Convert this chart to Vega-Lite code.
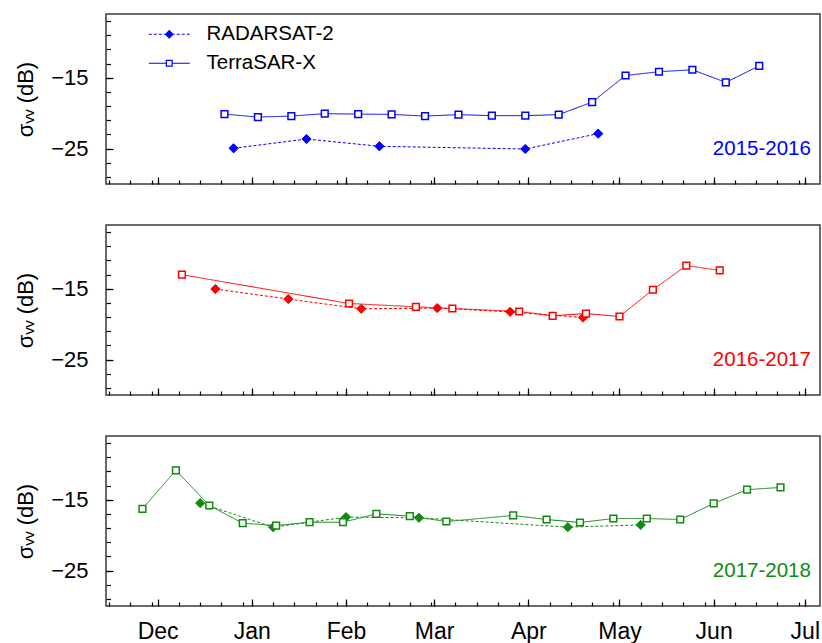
{
  "$schema": "https://vega.github.io/schema/vega-lite/v6.json",
  "padding": {"left": 13, "top": 13, "right": 0, "bottom": 0},
  "background": "white",
  "config": {
    "font": "Liberation Sans",
    "view": {"stroke": "#3a3a3a", "strokeWidth": 1.5},
    "axis": {"domain": false, "grid": false, "tickColor": "#000000", "tickWidth": 1.2, "labelFont": "Liberation Sans", "labelFontSize": 22, "labelColor": "#000000", "titleFont": "Liberation Sans", "titleFontSize": 22, "titleFontWeight": "normal", "titleColor": "#000000"}
  },
  "datasets": {
    "obs": [
      {"season": "2015-2016", "sensor": "TerraSAR-X", "date": "2015-12-23", "sigma": -20.13},
      {"season": "2015-2016", "sensor": "TerraSAR-X", "date": "2016-01-03", "sigma": -20.55},
      {"season": "2015-2016", "sensor": "TerraSAR-X", "date": "2016-01-14", "sigma": -20.41},
      {"season": "2015-2016", "sensor": "TerraSAR-X", "date": "2016-01-25", "sigma": -20.07},
      {"season": "2015-2016", "sensor": "TerraSAR-X", "date": "2016-02-05", "sigma": -20.13},
      {"season": "2015-2016", "sensor": "TerraSAR-X", "date": "2016-02-16", "sigma": -20.17},
      {"season": "2015-2016", "sensor": "TerraSAR-X", "date": "2016-02-27", "sigma": -20.41},
      {"season": "2015-2016", "sensor": "TerraSAR-X", "date": "2016-03-09", "sigma": -20.21},
      {"season": "2015-2016", "sensor": "TerraSAR-X", "date": "2016-03-20", "sigma": -20.35},
      {"season": "2015-2016", "sensor": "TerraSAR-X", "date": "2016-03-31", "sigma": -20.35},
      {"season": "2015-2016", "sensor": "TerraSAR-X", "date": "2016-04-11", "sigma": -20.21},
      {"season": "2015-2016", "sensor": "TerraSAR-X", "date": "2016-04-22", "sigma": -18.44},
      {"season": "2015-2016", "sensor": "TerraSAR-X", "date": "2016-05-03", "sigma": -14.68},
      {"season": "2015-2016", "sensor": "TerraSAR-X", "date": "2016-05-14", "sigma": -14.15},
      {"season": "2015-2016", "sensor": "TerraSAR-X", "date": "2016-05-25", "sigma": -13.87},
      {"season": "2015-2016", "sensor": "TerraSAR-X", "date": "2016-06-05", "sigma": -15.66},
      {"season": "2015-2016", "sensor": "TerraSAR-X", "date": "2016-06-16", "sigma": -13.31},
      {"season": "2015-2016", "sensor": "RADARSAT-2", "date": "2015-12-26", "sigma": -24.96},
      {"season": "2015-2016", "sensor": "RADARSAT-2", "date": "2016-01-19", "sigma": -23.65},
      {"season": "2015-2016", "sensor": "RADARSAT-2", "date": "2016-02-12", "sigma": -24.68},
      {"season": "2015-2016", "sensor": "RADARSAT-2", "date": "2016-03-31", "sigma": -25.06},
      {"season": "2015-2016", "sensor": "RADARSAT-2", "date": "2016-04-24", "sigma": -22.89},
      {"season": "2016-2017", "sensor": "TerraSAR-X", "date": "2015-12-09", "sigma": -13.02},
      {"season": "2016-2017", "sensor": "TerraSAR-X", "date": "2016-02-02", "sigma": -17.08},
      {"season": "2016-2017", "sensor": "TerraSAR-X", "date": "2016-02-24", "sigma": -17.55},
      {"season": "2016-2017", "sensor": "TerraSAR-X", "date": "2016-03-07", "sigma": -17.79},
      {"season": "2016-2017", "sensor": "TerraSAR-X", "date": "2016-03-29", "sigma": -18.21},
      {"season": "2016-2017", "sensor": "TerraSAR-X", "date": "2016-04-09", "sigma": -18.82},
      {"season": "2016-2017", "sensor": "TerraSAR-X", "date": "2016-04-20", "sigma": -18.5},
      {"season": "2016-2017", "sensor": "TerraSAR-X", "date": "2016-05-01", "sigma": -18.92},
      {"season": "2016-2017", "sensor": "TerraSAR-X", "date": "2016-05-12", "sigma": -15.14},
      {"season": "2016-2017", "sensor": "TerraSAR-X", "date": "2016-05-23", "sigma": -11.74},
      {"season": "2016-2017", "sensor": "TerraSAR-X", "date": "2016-06-03", "sigma": -12.41},
      {"season": "2016-2017", "sensor": "RADARSAT-2", "date": "2015-12-20", "sigma": -15.04},
      {"season": "2016-2017", "sensor": "RADARSAT-2", "date": "2016-01-13", "sigma": -16.46},
      {"season": "2016-2017", "sensor": "RADARSAT-2", "date": "2016-02-06", "sigma": -17.83},
      {"season": "2016-2017", "sensor": "RADARSAT-2", "date": "2016-03-02", "sigma": -17.73},
      {"season": "2016-2017", "sensor": "RADARSAT-2", "date": "2016-03-26", "sigma": -18.26},
      {"season": "2016-2017", "sensor": "RADARSAT-2", "date": "2016-04-19", "sigma": -19.07},
      {"season": "2017-2018", "sensor": "TerraSAR-X", "date": "2015-11-26", "sigma": -16.28},
      {"season": "2017-2018", "sensor": "TerraSAR-X", "date": "2015-12-07", "sigma": -10.84},
      {"season": "2017-2018", "sensor": "TerraSAR-X", "date": "2015-12-18", "sigma": -15.81},
      {"season": "2017-2018", "sensor": "TerraSAR-X", "date": "2015-12-29", "sigma": -18.31},
      {"season": "2017-2018", "sensor": "TerraSAR-X", "date": "2016-01-09", "sigma": -18.65},
      {"season": "2017-2018", "sensor": "TerraSAR-X", "date": "2016-01-20", "sigma": -18.17},
      {"season": "2017-2018", "sensor": "TerraSAR-X", "date": "2016-01-31", "sigma": -18.17},
      {"season": "2017-2018", "sensor": "TerraSAR-X", "date": "2016-02-11", "sigma": -16.99},
      {"season": "2017-2018", "sensor": "TerraSAR-X", "date": "2016-02-22", "sigma": -17.31},
      {"season": "2017-2018", "sensor": "TerraSAR-X", "date": "2016-03-05", "sigma": -18.07},
      {"season": "2017-2018", "sensor": "TerraSAR-X", "date": "2016-03-27", "sigma": -17.22},
      {"season": "2017-2018", "sensor": "TerraSAR-X", "date": "2016-04-07", "sigma": -17.79},
      {"season": "2017-2018", "sensor": "TerraSAR-X", "date": "2016-04-18", "sigma": -18.21},
      {"season": "2017-2018", "sensor": "TerraSAR-X", "date": "2016-04-29", "sigma": -17.65},
      {"season": "2017-2018", "sensor": "TerraSAR-X", "date": "2016-05-10", "sigma": -17.65},
      {"season": "2017-2018", "sensor": "TerraSAR-X", "date": "2016-05-21", "sigma": -17.79},
      {"season": "2017-2018", "sensor": "TerraSAR-X", "date": "2016-06-01", "sigma": -15.52},
      {"season": "2017-2018", "sensor": "TerraSAR-X", "date": "2016-06-12", "sigma": -13.58},
      {"season": "2017-2018", "sensor": "TerraSAR-X", "date": "2016-06-23", "sigma": -13.26},
      {"season": "2017-2018", "sensor": "RADARSAT-2", "date": "2015-12-15", "sigma": -15.47},
      {"season": "2017-2018", "sensor": "RADARSAT-2", "date": "2016-01-08", "sigma": -18.87},
      {"season": "2017-2018", "sensor": "RADARSAT-2", "date": "2016-02-01", "sigma": -17.45},
      {"season": "2017-2018", "sensor": "RADARSAT-2", "date": "2016-02-25", "sigma": -17.55},
      {"season": "2017-2018", "sensor": "RADARSAT-2", "date": "2016-04-14", "sigma": -18.87},
      {"season": "2017-2018", "sensor": "RADARSAT-2", "date": "2016-05-08", "sigma": -18.55}
    ],
    "seasons": [
      {"season": "2015-2016"},
      {"season": "2016-2017"},
      {"season": "2017-2018"}
    ]
  },
  "spacing": 38,
  "resolve": {"scale": {"fill": "independent"}, "legend": {"shape": "independent", "fill": "independent"}},
  "vconcat": [
    {
      "width": 714, "height": 170,
      "resolve": {"axis": {"x": "independent", "y": "independent"}},
      "layer": [
        {
          "data": {"name": "obs"},
          "transform": [{"filter": "datum.season === '2015-2016'"}],
          "mark": {"type": "line", "color": "#0000ff", "strokeWidth": 1},
          "encoding": {
            "x": {"field": "date", "type": "temporal", "scale": {"type": "utc", "domain": [{"year": 2015, "month": 11, "date": 14, "utc": true}, {"year": 2016, "month": 7, "date": 6, "utc": true}]},
              "axis": {"title": null, "orient": "bottom", "tickCount": {"interval": "month", "step": 1}, "tickSize": -7, "labels": false}},
            "y": {"field": "sigma", "type": "quantitative", "scale": {"domain": [-30, -6], "nice": false, "zero": false},
              "axis": {"title": "σᵥᵥ (dB)", "orient": "left", "values": [-25, -15], "tickSize": -7, "labelPadding": 25, "titlePadding": 13}},
            "strokeDash": {"field": "sensor", "type": "nominal", "scale": {"domain": ["RADARSAT-2", "TerraSAR-X"], "range": [[3, 2], [1, 0]]}, "legend": null}
          }
        },
        {
          "data": {"name": "obs"},
          "transform": [{"filter": "datum.season === '2015-2016' && datum.sensor === 'RADARSAT-2'"}],
          "mark": {"type": "point", "shape": "diamond", "filled": true, "color": "#0000ff", "stroke": "#0000ff", "strokeWidth": 1, "size": 85, "opacity": 1},
          "encoding": {
            "x": {"field": "date", "type": "temporal", "axis": {"title": null, "orient": "bottom", "tickCount": {"interval": "day", "step": 7}, "tickSize": -4, "labels": false}},
            "y": {"field": "sigma", "type": "quantitative", "axis": {"title": null, "orient": "left", "values": [-29, -27, -25, -23, -21, -19, -17, -15, -13, -11, -9, -7], "tickSize": -4.5, "labels": false}}
          }
        },
        {
          "data": {"name": "obs"},
          "transform": [{"filter": "datum.season === '2015-2016' && datum.sensor === 'TerraSAR-X'"}],
          "mark": {"type": "point", "shape": "square", "filled": true, "fill": "#ffffff", "stroke": "#0000ff", "strokeWidth": 1.5, "size": 45, "opacity": 1},
          "encoding": {
            "x": {"field": "date", "type": "temporal", "axis": null},
            "y": {"field": "sigma", "type": "quantitative", "axis": null}
          }
        },
        {
          "data": {"name": "obs"},
          "transform": [{"filter": "datum.season === 'legend'"}],
          "mark": {"type": "point", "filled": true, "color": "#0000ff", "opacity": 1},
          "encoding": {
            "x": {"field": "date", "type": "temporal", "axis": null},
            "y": {"field": "sigma", "type": "quantitative", "axis": null},
            "shape": {"field": "sensor", "type": "nominal",
              "scale": {"domain": ["RADARSAT-2", "TerraSAR-X"], "range": [
                "M-4.1,-0.12H-3.5V0.12H-4.1ZM-3.1,-0.12H-2.5V0.12H-3.1ZM-2.1,-0.12H-1.5V0.12H-2.1ZM-1.1,-0.12H-0.7V0.12H-1.1ZM0,-0.9L0.9,0L0,0.9L-0.9,0ZM0.7,-0.12H1.1V0.12H0.7ZM1.5,-0.12H2.1V0.12H1.5ZM2.5,-0.12H3.1V0.12H2.5ZM3.5,-0.12H4.1V0.12H3.5Z",
                "M-4.1,-0.12H-0.7V0.12H-4.1ZM0.7,-0.12H4.1V0.12H0.7ZM-0.7,-0.7H0.7V0.7H-0.7ZM-0.46,-0.46V0.46H0.46V-0.46Z"]},
              "legend": {"orient": "none", "legendX": 53, "legendY": 10, "title": null, "padding": 0, "rowPadding": 8, "labelOffset": 27, "labelFontSize": 20.5, "labelFont": "Liberation Sans", "labelColor": "#000000", "symbolSize": 100, "symbolOpacity": 1}},
            "fill": {"field": "sensor", "type": "nominal", "scale": {"domain": ["RADARSAT-2", "TerraSAR-X"], "range": ["#0000ff", "#0000ff"]}, "legend": null},
            "size": {"field": "sensor", "type": "nominal", "scale": {"domain": ["RADARSAT-2", "TerraSAR-X"], "range": [100, 100]}, "legend": null}
          }
        },
        {
          "data": {"name": "seasons"},
          "transform": [{"filter": "datum.season === '2015-2016'"}],
          "mark": {"type": "text", "align": "right", "baseline": "middle", "fontSize": 20.5, "font": "Liberation Sans", "color": "#0000ff"},
          "encoding": {
            "x": {"datum": {"year": 2016, "month": 7, "date": 3, "utc": true}, "type": "temporal", "axis": null},
            "y": {"datum": -25.05, "type": "quantitative", "axis": null},
            "text": {"field": "season", "type": "nominal"}
          }
        }
      ]
    },
    {
      "width": 714, "height": 170,
      "resolve": {"axis": {"x": "independent", "y": "independent"}},
      "layer": [
        {
          "data": {"name": "obs"},
          "transform": [{"filter": "datum.season === '2016-2017'"}],
          "mark": {"type": "line", "color": "#ff0000", "strokeWidth": 1},
          "encoding": {
            "x": {"field": "date", "type": "temporal", "scale": {"type": "utc", "domain": [{"year": 2015, "month": 11, "date": 14, "utc": true}, {"year": 2016, "month": 7, "date": 6, "utc": true}]},
              "axis": {"title": null, "orient": "bottom", "tickCount": {"interval": "month", "step": 1}, "tickSize": -7, "labels": false}},
            "y": {"field": "sigma", "type": "quantitative", "scale": {"domain": [-30, -6], "nice": false, "zero": false},
              "axis": {"title": "σᵥᵥ (dB)", "orient": "left", "values": [-25, -15], "tickSize": -7, "labelPadding": 25, "titlePadding": 13}},
            "strokeDash": {"field": "sensor", "type": "nominal", "scale": {"domain": ["RADARSAT-2", "TerraSAR-X"], "range": [[3, 2], [1, 0]]}, "legend": null}
          }
        },
        {
          "data": {"name": "obs"},
          "transform": [{"filter": "datum.season === '2016-2017' && datum.sensor === 'RADARSAT-2'"}],
          "mark": {"type": "point", "shape": "diamond", "filled": true, "color": "#ff0000", "stroke": "#ff0000", "strokeWidth": 1, "size": 85, "opacity": 1},
          "encoding": {
            "x": {"field": "date", "type": "temporal", "axis": {"title": null, "orient": "bottom", "tickCount": {"interval": "day", "step": 7}, "tickSize": -4, "labels": false}},
            "y": {"field": "sigma", "type": "quantitative", "axis": {"title": null, "orient": "left", "values": [-29, -27, -25, -23, -21, -19, -17, -15, -13, -11, -9, -7], "tickSize": -4.5, "labels": false}}
          }
        },
        {
          "data": {"name": "obs"},
          "transform": [{"filter": "datum.season === '2016-2017' && datum.sensor === 'TerraSAR-X'"}],
          "mark": {"type": "point", "shape": "square", "filled": true, "fill": "#ffffff", "stroke": "#ff0000", "strokeWidth": 1.5, "size": 45, "opacity": 1},
          "encoding": {
            "x": {"field": "date", "type": "temporal", "axis": null},
            "y": {"field": "sigma", "type": "quantitative", "axis": null}
          }
        },
        {
          "data": {"name": "seasons"},
          "transform": [{"filter": "datum.season === '2016-2017'"}],
          "mark": {"type": "text", "align": "right", "baseline": "middle", "fontSize": 20.5, "font": "Liberation Sans", "color": "#ff0000"},
          "encoding": {
            "x": {"datum": {"year": 2016, "month": 7, "date": 3, "utc": true}, "type": "temporal", "axis": null},
            "y": {"datum": -25.05, "type": "quantitative", "axis": null},
            "text": {"field": "season", "type": "nominal"}
          }
        }
      ]
    },
    {
      "width": 714, "height": 170,
      "resolve": {"axis": {"x": "independent", "y": "independent"}},
      "layer": [
        {
          "data": {"name": "obs"},
          "transform": [{"filter": "datum.season === '2017-2018'"}],
          "mark": {"type": "line", "color": "#128a12", "strokeWidth": 1},
          "encoding": {
            "x": {"field": "date", "type": "temporal", "scale": {"type": "utc", "domain": [{"year": 2015, "month": 11, "date": 14, "utc": true}, {"year": 2016, "month": 7, "date": 6, "utc": true}]},
              "axis": {"title": null, "orient": "bottom", "tickCount": {"interval": "month", "step": 1}, "tickSize": -7, "labels": true, "format": "%b", "labelPadding": 21.5, "labelFlush": false, "labelOverlap": false, "labelFontSize": 23}},
            "y": {"field": "sigma", "type": "quantitative", "scale": {"domain": [-30, -6], "nice": false, "zero": false},
              "axis": {"title": "σᵥᵥ (dB)", "orient": "left", "values": [-25, -15], "tickSize": -7, "labelPadding": 25, "titlePadding": 13}},
            "strokeDash": {"field": "sensor", "type": "nominal", "scale": {"domain": ["RADARSAT-2", "TerraSAR-X"], "range": [[3, 2], [1, 0]]}, "legend": null}
          }
        },
        {
          "data": {"name": "obs"},
          "transform": [{"filter": "datum.season === '2017-2018' && datum.sensor === 'RADARSAT-2'"}],
          "mark": {"type": "point", "shape": "diamond", "filled": true, "color": "#128a12", "stroke": "#128a12", "strokeWidth": 1, "size": 85, "opacity": 1},
          "encoding": {
            "x": {"field": "date", "type": "temporal", "axis": {"title": null, "orient": "bottom", "tickCount": {"interval": "day", "step": 7}, "tickSize": -4, "labels": false}},
            "y": {"field": "sigma", "type": "quantitative", "axis": {"title": null, "orient": "left", "values": [-29, -27, -25, -23, -21, -19, -17, -15, -13, -11, -9, -7], "tickSize": -4.5, "labels": false}}
          }
        },
        {
          "data": {"name": "obs"},
          "transform": [{"filter": "datum.season === '2017-2018' && datum.sensor === 'TerraSAR-X'"}],
          "mark": {"type": "point", "shape": "square", "filled": true, "fill": "#ffffff", "stroke": "#128a12", "strokeWidth": 1.5, "size": 45, "opacity": 1},
          "encoding": {
            "x": {"field": "date", "type": "temporal", "axis": null},
            "y": {"field": "sigma", "type": "quantitative", "axis": null}
          }
        },
        {
          "data": {"name": "seasons"},
          "transform": [{"filter": "datum.season === '2017-2018'"}],
          "mark": {"type": "text", "align": "right", "baseline": "middle", "fontSize": 20.5, "font": "Liberation Sans", "color": "#128a12"},
          "encoding": {
            "x": {"datum": {"year": 2016, "month": 7, "date": 3, "utc": true}, "type": "temporal", "axis": null},
            "y": {"datum": -25.05, "type": "quantitative", "axis": null},
            "text": {"field": "season", "type": "nominal"}
          }
        }
      ]
    }
  ]
}
